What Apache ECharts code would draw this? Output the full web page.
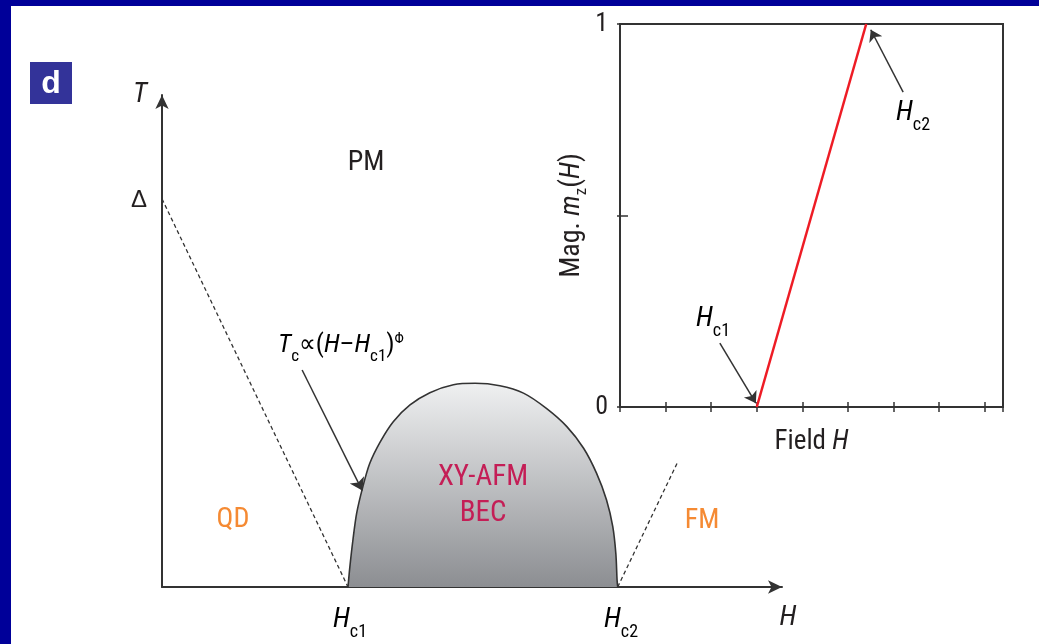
<!DOCTYPE html>
<html>
<head>
<meta charset="utf-8">
<script src="https://cdn.jsdelivr.net/npm/echarts@6/dist/echarts.min.js"></script>
<style>html,body{margin:0;padding:0;background:#fff;}#c{width:1039px;height:644px;}</style>
</head>
<body>
<div id="c"></div>
<script>
// ---- Main phase diagram data (schematic units) ----
const domeH = [3.00, 3.03, 3.08, 3.14, 3.24, 3.35, 3.52, 3.73, 4.00, 4.32, 4.70, 5.05, 5.45, 5.83, 6.20, 6.53, 6.80, 7.01, 7.17, 7.27, 7.32, 7.34, 7.35];
const domeT = [0, 0.41, 0.96, 1.50, 2.04, 2.51, 2.95, 3.36, 3.70, 3.95, 4.11, 4.14, 4.09, 3.94, 3.63, 3.26, 2.82, 2.31, 1.77, 1.23, 0.68, 0.14, 0];
const qdBoundaryH = [0, 3.00];
const qdBoundaryT = [7.89, 0];
const fmBoundaryH = [7.35, 8.31];
const fmBoundaryT = [0, 2.52];
const tcArrowH = [2.26, 3.23];
const tcArrowT = [4.41, 1.96];
// ---- Inset magnetization data ----
const magH = [3.0, 5.4];
const magM = [0, 1];
const hc1ArrowH = [2.19, 2.98];
const hc1ArrowM = [0.167, 0.01];
const hc2ArrowH = [6.21, 5.50];
const hc2ArrowM = [0.822, 0.985];
const insetYTickLabels = ['0', '1'];

const F = "'Liberation Sans Narrow','Roboto Condensed','DejaVu Sans Condensed','Liberation Sans',sans-serif";
const INK = '#231f20';
const AX = '#333333';
const zip = (a, b) => a.map((v, i) => [v, b[i]]);

function rich(size, sub, lh) {
  return {
    i: {fontFamily: F, fontStyle: 'italic', fontSize: size, color: INK, lineHeight: lh},
    n: {fontFamily: F, fontSize: size, color: INK, lineHeight: lh},
    s: {fontFamily: F, fontSize: sub, color: INK, verticalAlign: 'bottom'},
    p: {fontFamily: F, fontSize: sub - 2, color: INK, verticalAlign: 'top', height: lh * 0.7}
  };
}
function label(x, y, text, size, sub, lh) {
  return {
    type: 'text', x: x, y: y, z: 50,
    style: {text: text, rich: rich(size, sub, lh), align: 'center', verticalAlign: 'middle'}
  };
}
function plain(x, y, text, size, color, extra) {
  return {
    type: 'text', x: x, y: y, z: 50,
    style: Object.assign({text: text, fontFamily: F, fontSize: size, fill: color, align: 'center', verticalAlign: 'middle'}, extra || {})
  };
}

const chart = echarts.init(document.getElementById('c'), null, {renderer: 'canvas'});
const arrowAxis = {show: true, symbol: ['none', 'arrow'], symbolSize: [10, 14], lineStyle: {color: AX, width: 2}};

chart.setOption({
  animation: false,
  backgroundColor: '#ffffff',
  grid: [
    {left: 162, top: 95, width: 620, height: 492},
    {left: 620, top: 24, width: 383, height: 383, show: true, borderColor: AX, borderWidth: 2, backgroundColor: 'transparent'},
    {left: 620, top: 24, width: 383, height: 383}
  ],
  xAxis: [
    {gridIndex: 0, type: 'value', min: 0, max: 10, axisLine: arrowAxis, axisTick: {show: false}, axisLabel: {show: false}, splitLine: {show: false}},
    {gridIndex: 1, type: 'value', min: 0, max: 8.4, interval: 1,
      axisLine: {lineStyle: {color: AX, width: 2}}, axisTick: {inside: true, length: 5, lineStyle: {color: AX, width: 1.5}},
      axisLabel: {show: false}, splitLine: {show: false},
      name: '{n|Field }{i|H}', nameLocation: 'middle', nameGap: 22,
      nameTextStyle: {rich: {n: {fontFamily: F, fontSize: 27, color: INK}, i: {fontFamily: F, fontSize: 27, fontStyle: 'italic', color: INK}}}},
    {gridIndex: 2, type: 'value', min: 0, max: 8.4, interval: 1,
      axisLine: {show: false}, axisTick: {inside: false, length: 5, lineStyle: {color: AX, width: 1.5}},
      axisLabel: {show: false}, splitLine: {show: false}}
  ],
  yAxis: [
    {gridIndex: 0, type: 'value', min: 0, max: 10, axisLine: arrowAxis, axisTick: {show: false}, axisLabel: {show: false}, splitLine: {show: false}},
    {gridIndex: 1, type: 'value', min: 0, max: 1, interval: 0.5,
      axisLine: {lineStyle: {color: AX, width: 2}}, axisTick: {inside: true, length: 8, lineStyle: {color: AX, width: 1.5}},
      axisLabel: {margin: 12, fontFamily: F, fontSize: 26, color: INK,
        formatter: v => (v === 0 ? insetYTickLabels[0] : (v === 1 ? insetYTickLabels[1] : ''))},
      splitLine: {show: false},
      name: '{n|Mag. }{i|m}{s|z}{n|(}{i|H}{n|)}', nameLocation: 'middle', nameGap: 30, nameRotate: 90,
      nameTextStyle: {rich: {
        n: {fontFamily: F, fontSize: 28, color: INK, lineHeight: 36},
        i: {fontFamily: F, fontSize: 28, fontStyle: 'italic', color: INK, lineHeight: 36},
        s: {fontFamily: F, fontSize: 17, color: INK, verticalAlign: 'bottom'}}}},
    {gridIndex: 2, type: 'value', min: 0, max: 1, interval: 0.5,
      axisLine: {show: false}, axisTick: {inside: false, length: 3, lineStyle: {color: AX, width: 1.5}},
      axisLabel: {show: false}, splitLine: {show: false}}
  ],
  series: [
    {
      type: 'line', xAxisIndex: 0, yAxisIndex: 0, data: zip(domeH, domeT), smooth: 0.3,
      showSymbol: false, z: 3,
      lineStyle: {color: AX, width: 1.6},
      areaStyle: {opacity: 1, color: new echarts.graphic.LinearGradient(0, 0, 0, 1, [
        {offset: 0, color: '#eff0f1'}, {offset: 1, color: '#8c8e92'}])}
    },
    {type: 'line', xAxisIndex: 0, yAxisIndex: 0, data: zip(qdBoundaryH, qdBoundaryT), showSymbol: false,
      lineStyle: {color: AX, width: 1.3, type: [4, 3]}},
    {type: 'line', xAxisIndex: 0, yAxisIndex: 0, data: zip(fmBoundaryH, fmBoundaryT), showSymbol: false,
      lineStyle: {color: AX, width: 1.3, type: [4, 3]}},
    {type: 'lines', coordinateSystem: 'cartesian2d', xAxisIndex: 0, yAxisIndex: 0, z: 5,
      symbol: ['none', 'arrow'], symbolSize: 12,
      lineStyle: {color: AX, width: 1.5, opacity: 1},
      data: [{coords: zip(tcArrowH, tcArrowT)}]},
    {type: 'line', xAxisIndex: 1, yAxisIndex: 1, data: zip(magH, magM), showSymbol: false,
      lineStyle: {color: '#ee1c25', width: 2.5}},
    {type: 'lines', coordinateSystem: 'cartesian2d', xAxisIndex: 1, yAxisIndex: 1, z: 5,
      symbol: ['none', 'arrow'], symbolSize: 11,
      lineStyle: {color: AX, width: 1.5, opacity: 1},
      data: [{coords: zip(hc1ArrowH, hc1ArrowM)}, {coords: zip(hc2ArrowH, hc2ArrowM)}]}
  ],
  graphic: [
    {type: 'rect', shape: {x: 0, y: 0, width: 1039, height: 6}, style: {fill: '#000099'}, z: 100},
    {type: 'rect', shape: {x: 0, y: 0, width: 11, height: 644}, style: {fill: '#000099'}, z: 100},
    {type: 'rect', shape: {x: 30, y: 62, width: 42, height: 42}, style: {fill: '#333399'}, z: 100},
    {type: 'text', x: 51, y: 84, z: 101, style: {text: 'd', fontFamily: "'Liberation Sans',Arial,sans-serif", fontWeight: 'bold', fontSize: 32, fill: '#ffffff', align: 'center', verticalAlign: 'middle'}},
    plain(140, 95, 'T', 28, INK, {fontStyle: 'italic'}),
    plain(139, 200, 'Δ', 24, INK, {fontFamily: "'Liberation Sans',sans-serif"}),
    plain(366, 163, 'PM', 28, INK),
    plain(233, 520, 'QD', 28, '#f58a33'),
    plain(702, 521, 'FM', 28, '#f58a33'),
    plain(483, 478, 'XY-AFM', 29, '#c41e56'),
    plain(483, 514, 'BEC', 29, '#c41e56'),
    label(341, 345, '{i|T}{s|c}{n|∝(}{i|H}{n|–}{i|H}{s|c1}{n|)}{p|Φ}', 26, 17, 40),
    label(350, 620, '{i|H}{s|c1}', 28, 18, 42),
    label(621, 620, '{i|H}{s|c2}', 28, 18, 42),
    plain(788, 618, 'H', 28, INK, {fontStyle: 'italic'}),
    label(713, 319, '{i|H}{s|c1}', 28, 18, 42),
    label(913, 113, '{i|H}{s|c2}', 28, 18, 42)
  ]
});
</script>
</body>
</html>
